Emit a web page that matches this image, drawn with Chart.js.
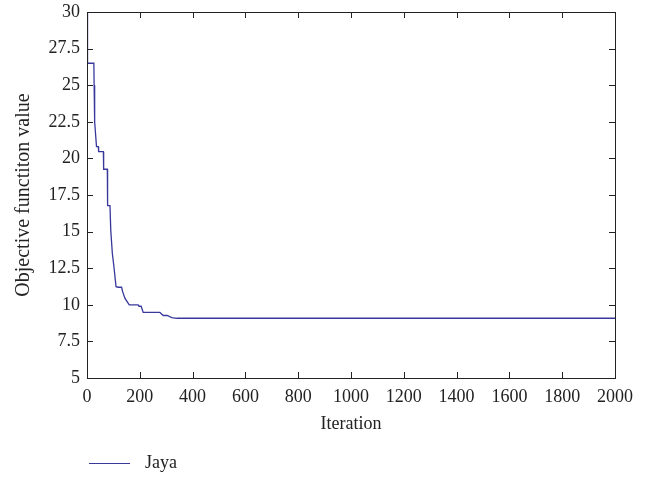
<!DOCTYPE html>
<html>
<head>
<meta charset="utf-8">
<script src="https://cdn.jsdelivr.net/npm/chart.js@4/dist/chart.umd.min.js"></script>
<style>
  html, body { margin: 0; padding: 0; background: #fff; }
  #wrap { width: 661px; height: 479px; }
</style>
</head>
<body>
<div id="wrap"><canvas id="chart" width="661" height="479"></canvas></div>
<script>
// convergence curve
const iterations = [1, 2, 26, 27, 29, 36, 43, 44, 62, 63, 77, 78, 87, 90, 96, 102, 110, 118, 131, 135, 144, 160, 194, 197, 205, 213, 276, 289, 304, 321, 340, 2000];
const objective = [30, 26.5, 26.5, 25, 22.5, 20.8, 20.8, 20.46, 20.46, 19.26, 19.26, 16.77, 16.77, 15.1, 13.5, 12.6, 11.24, 11.2, 11.2, 10.9, 10.44, 9.99, 9.99, 9.9, 9.9, 9.48, 9.48, 9.27, 9.27, 9.13, 9.08, 9.08];
const seriesLabel = 'Jaya';
const xLabel = 'Iteration';
const yLabel = 'Objective functiton value';
const xRange = [0, 2000], xStep = 200;
const yRange = [5, 30], yStep = 2.5;

const font = "'Liberation Serif', 'DejaVu Serif', serif";
const ink = '#222';
const lineColor = '#38389c';

// box around the plot, ticks pointing inward on all four sides, legend underneath
const frame = {
  id: 'frame',
  afterDatasetsDraw(chart) {
    const { ctx, chartArea: a, scales } = chart;
    ctx.save();
    ctx.strokeStyle = ink;
    ctx.lineWidth = 1;
    ctx.strokeRect(Math.round(a.left) + 0.5, Math.round(a.top) + 0.5,
      Math.round(a.right - a.left), Math.round(a.bottom - a.top));
    const len = 6;
    ctx.beginPath();
    scales.x.ticks.forEach(t => {
      const px = Math.round(scales.x.getPixelForValue(t.value)) + 0.5;
      ctx.moveTo(px, a.bottom); ctx.lineTo(px, a.bottom - len);
      ctx.moveTo(px, a.top); ctx.lineTo(px, a.top + len);
    });
    scales.y.ticks.forEach(t => {
      const py = Math.round(scales.y.getPixelForValue(t.value)) + 0.5;
      ctx.moveTo(a.left, py); ctx.lineTo(a.left + len, py);
      ctx.moveTo(a.right, py); ctx.lineTo(a.right - len, py);
    });
    ctx.stroke();

    const ds = chart.data.datasets[0];
    const ly = 463.5;
    ctx.strokeStyle = ds.borderColor;
    ctx.lineWidth = 1.2;
    ctx.beginPath();
    ctx.moveTo(89, ly); ctx.lineTo(130, ly);
    ctx.stroke();
    ctx.fillStyle = ink;
    ctx.font = '18px ' + font;
    ctx.textBaseline = 'middle';
    ctx.fillText(ds.label, 145, ly);
    ctx.restore();
  }
};

new Chart(document.getElementById('chart'), {
  type: 'line',
  data: {
    datasets: [{
      label: seriesLabel,
      data: iterations.map((x, i) => ({ x: x, y: objective[i] })),
      borderColor: lineColor,
      borderWidth: 1.3,
      pointRadius: 0,
      tension: 0,
      fill: false
    }]
  },
  options: {
    responsive: false,
    animation: false,
    events: [],
    layout: { padding: { top: 12, right: 46, bottom: 40, left: 0 } },
    plugins: {
      legend: { display: false },
      tooltip: { enabled: false }
    },
    scales: {
      x: {
        type: 'linear',
        min: xRange[0], max: xRange[1],
        afterFit(scale) { scale.height = 61; scale.paddingLeft = 0; scale.paddingRight = 0; },
        grid: { display: false, drawTicks: false },
        border: { display: false },
        ticks: { stepSize: xStep, padding: 8, color: ink, font: { family: font, size: 18 }, maxRotation: 0,
          callback: v => String(v) },
        title: { display: true, text: xLabel, color: ink, font: { family: font, size: 18 }, padding: { top: 0, bottom: 4 } }
      },
      y: {
        type: 'linear',
        min: yRange[0], max: yRange[1],
        afterFit(scale) { scale.width = 87; scale.paddingTop = 0; scale.paddingBottom = 0; },
        grid: { display: false, drawTicks: false },
        border: { display: false },
        ticks: { stepSize: yStep, padding: 7, color: ink, font: { family: font, size: 18 },
          callback: v => String(v) },
        title: { display: true, text: yLabel, color: ink, font: { family: font, size: 20 }, padding: { top: 12, bottom: 0 } }
      }
    }
  },
  plugins: [frame]
});
</script>
</body>
</html>
